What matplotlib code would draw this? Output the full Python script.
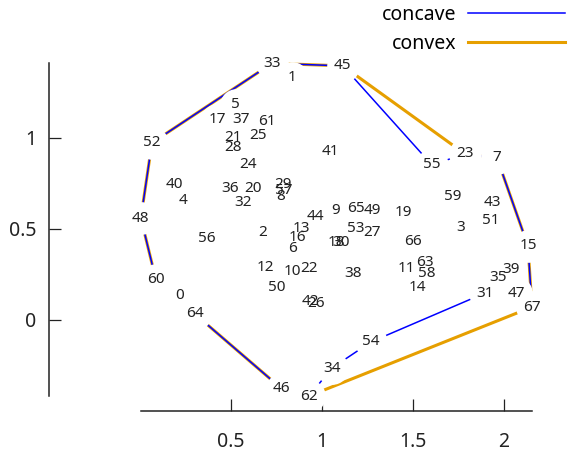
import matplotlib
matplotlib.use("Agg")
import matplotlib.pyplot as plt

plt.rcParams['font.family'] = ['Noto Sans', 'DejaVu Sans']

# point coordinates, index = point label
xs = [0.220, 0.835, 0.676, 1.764, 0.236, 0.527, 0.841, 1.962, 0.775, 1.077,
      0.835, 1.462, 0.692, 0.885, 1.522, 2.132, 0.863, 0.423, 1.082, 1.445,
      0.621, 0.511, 0.929, 1.786, 0.593, 0.648, 0.967, 1.275, 0.511, 0.786,
      1.104, 1.896, 0.566, 0.725, 1.055, 1.967, 0.495, 0.555, 1.170, 2.038,
      0.187, 1.044, 0.934, 1.934, 0.962, 1.115, 0.780, 2.066, 0.005, 1.275,
      0.753, 1.929, 0.066, 1.187, 1.269, 1.604, 0.368, 0.791, 1.577, 1.720,
      0.088, 0.698, 0.929, 1.566, 0.302, 1.187, 1.500, 2.154]
ys = [0.133, 1.331, 0.481, 0.508, 0.657, 1.182, 0.392, 0.890, 0.681, 0.599,
      0.264, 0.280, 0.286, 0.505, 0.181, 0.407, 0.451, 1.099, 0.423, 0.593,
      0.725, 1.005, 0.280, 0.912, 0.852, 1.016, 0.088, 0.478, 0.945, 0.742,
      0.423, 0.148, 0.648, 1.410, -0.264, 0.236, 0.720, 1.104, 0.253, 0.275,
      0.742, 0.923, 0.099, 0.648, 0.566, 1.396, -0.379, 0.148, 0.560, 0.599,
      0.181, 0.549, 0.973, 0.505, -0.121, 0.852, 0.445, 0.709, 0.253, 0.676,
      0.220, 1.093, -0.418, 0.313, 0.033, 0.615, 0.429, 0.071]

# hull orders (point indices)
convex = [33, 45, 23, 7, 15, 67, 62, 46, 64, 60, 48, 52, 33]
concave = [33, 45, 55, 23, 7, 15, 67, 47, 31, 54, 34, 62, 46, 64, 0, 60, 48, 52, 33]

xticks = [0.5, 1, 1.5, 2]
yticks = [0, 0.5, 1]

fig = plt.figure(figsize=(5.7, 4.51), dpi=100)
ax = fig.add_axes([0, 0, 1, 1])
ax.set_xlim(-0.769, 2.363)
ax.set_ylim(-0.720, 1.758)

ax.plot([xs[i] for i in convex], [ys[i] for i in convex], color='#e69f00', lw=2.2,
        zorder=1, label='convex')
ax.plot([xs[i] for i in concave], [ys[i] for i in concave], color='#0000ff', lw=1.1,
        zorder=2, label='concave')

# white discs behind every label cut the hull lines (gnuplot style)
ax.plot(xs, ys, 'o', color='white', ms=23.5, mec='none', zorder=3)
for i in range(len(xs)):
    ax.text(xs[i], ys[i], str(i), ha='center', va='center', fontsize=11,
            color='#222222', zorder=4)

for s in ['top', 'right']:
    ax.spines[s].set_visible(False)
for s in ['left', 'bottom']:
    ax.spines[s].set_position(('data', -0.5))
    ax.spines[s].set_linewidth(1.1)
    ax.spines[s].set_color('#222222')
    ax.spines[s].set_zorder(3.5)
ax.spines['left'].set_bounds(min(ys), max(ys))
ax.spines['bottom'].set_bounds(min(xs), max(xs))

ax.set_xticks(xticks)
ax.set_xticklabels(['0.5', '1', '1.5', '2'])
ax.set_yticks(yticks)
ax.set_yticklabels(['0', '0.5', '1'])
ax.tick_params(axis='both', direction='in', length=8.5, width=0.9, colors='#222222',
               labelsize=14)
ax.tick_params(axis='x', pad=15)
ax.tick_params(axis='y', pad=9)

handles, labels = ax.get_legend_handles_labels()
ax.legend(handles[::-1], labels[::-1], loc='upper right', bbox_to_anchor=(1, 1),
          bbox_transform=fig.transFigure, markerfirst=False, frameon=False,
          fontsize=14, handlelength=5.0, handletextpad=0.6, labelspacing=0.45,
          borderaxespad=0, borderpad=0.25)

fig.savefig('out.png', dpi=100)
